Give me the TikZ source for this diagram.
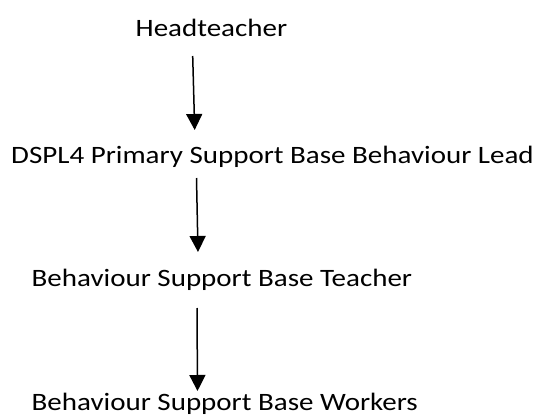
\documentclass[tikz,border=0pt]{standalone}
\usepackage{fontspec}
\setmainfont{Carlito}[FakeStretch=1.16]
\usetikzlibrary{arrows.meta}
\tikzset{
  role/.style={inner sep=0pt, anchor=base west, font=\fontsize{25}{30}\selectfont},
  link/.style={line width=1.5pt, -{Triangle[length=16pt,width=16pt]}}
}
\begin{document}
\begin{tikzpicture}[x=1pt,y=-1pt]
  \useasboundingbox (0,0) rectangle (539,415);
  \node[role] (head) at (135.5,36.7) {Headteacher};
  \node[role] (lead) at (11,163.5) {DSPL4 Primary Support Base Behaviour Lead};
  \node[role] (teacher) at (31.5,286) {Behaviour Support Base Teacher};
  \node[role] (workers) at (31.5,410.5) {Behaviour Support Base Workers};
  \coordinate (a1s) at (192.7,56);
  \coordinate (a1e) at (194.7,130);
  \coordinate (a2s) at (196.5,178);
  \coordinate (a2e) at (198,252);
  \coordinate (a3s) at (197,308);
  \coordinate (a3e) at (197.5,391);
  \draw[link] (a1s) -- (a1e);
  \draw[link] (a2s) -- (a2e);
  \draw[link] (a3s) -- (a3e);
\end{tikzpicture}
\end{document}
